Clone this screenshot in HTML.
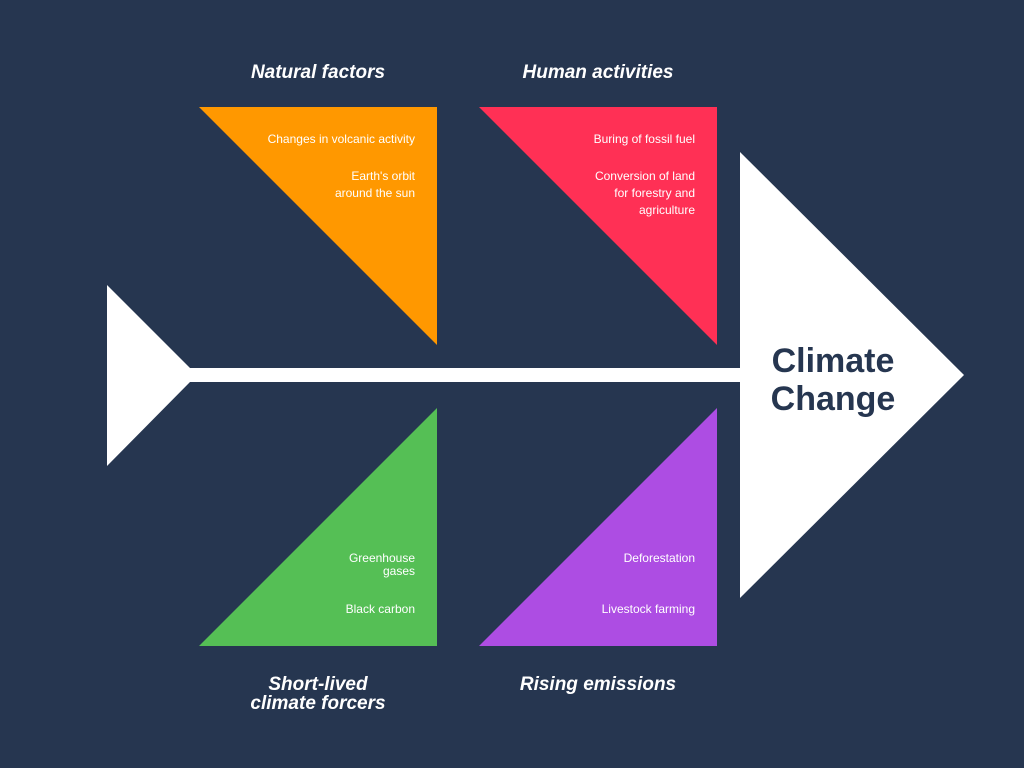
<!DOCTYPE html>
<html><head><style>
body{margin:0;background:#263650;}
svg{display:block}
text{font-family:"Liberation Sans",sans-serif;}
.t{font-size:19px;font-weight:bold;font-style:italic;fill:#fff;text-anchor:middle}
.s{font-size:12px;fill:#fff;text-anchor:end}
</style></head><body>
<svg width="1024" height="768" viewBox="0 0 1024 768">
<rect width="1024" height="768" fill="#263650"/>
<polygon points="107,285 190,368 740,368 740,382 190,382 107,466" fill="#fff"/>
<polygon points="740,152 964,375 740,598" fill="#fff"/>
<polygon points="199,107 437,107 437,345" fill="#ff9800"/>
<polygon points="479,107 717,107 717,345" fill="#ff3055"/>
<polygon points="437,408 437,646 199,646" fill="#55bf55"/>
<polygon points="717,408 717,646 479,646" fill="#ad4de3"/>
<text class="t" x="318" y="78">Natural factors</text>
<text class="t" x="598" y="78">Human activities</text>
<text class="t" x="318" y="690">Short-lived</text>
<text class="t" x="318" y="709">climate forcers</text>
<text class="t" x="598" y="690">Rising emissions</text>
<text class="s" x="415" y="143">Changes in volcanic activity</text>
<text class="s" x="415" y="180">Earth's orbit</text>
<text class="s" x="415" y="197">around the sun</text>
<text class="s" x="695" y="143">Buring of fossil fuel</text>
<text class="s" x="695" y="180">Conversion of land</text>
<text class="s" x="695" y="197">for forestry and</text>
<text class="s" x="695" y="214">agriculture</text>
<text class="s" x="415" y="562">Greenhouse</text>
<text class="s" x="415" y="575">gases</text>
<text class="s" x="415" y="613">Black carbon</text>
<text class="s" x="695" y="562">Deforestation</text>
<text class="s" x="695" y="613">Livestock farming</text>
<text x="833" y="372" font-size="34" font-weight="bold" fill="#263650" text-anchor="middle">Climate</text>
<text x="833" y="410" font-size="34" font-weight="bold" fill="#263650" text-anchor="middle">Change</text>
</svg>
</body></html>
